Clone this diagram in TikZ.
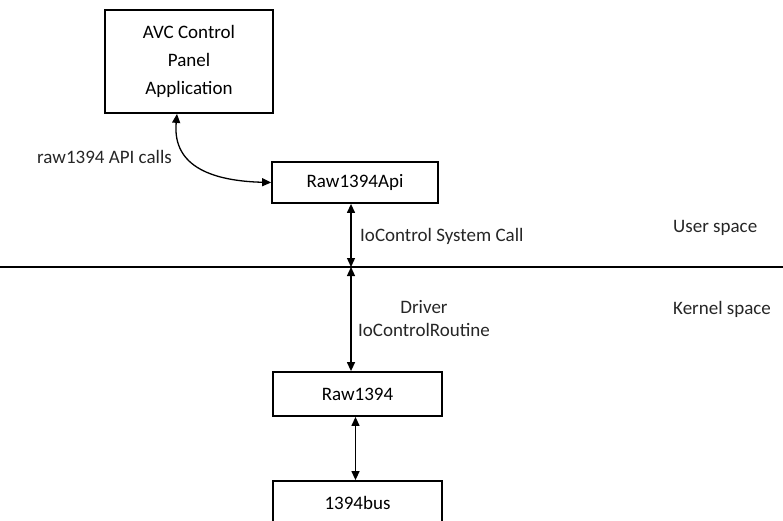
\documentclass[tikz,border=0pt]{standalone}
\usepackage{fontspec}
\setmainfont{Carlito}
\usetikzlibrary{arrows.meta,positioning,calc}

\begin{document}
\begin{tikzpicture}[x=1pt, y=-1pt,
  box/.style={rectangle, draw, line width=1.8pt, inner sep=0pt, align=center, font=\fontsize{19}{28}\selectfont},
  arr/.style={{Triangle[length=9pt,width=8pt]}-{Triangle[length=9pt,width=8pt]}, line width=1.3pt},
  lbl/.style={inner sep=0pt, font=\fontsize{19}{23}\selectfont, text=black!85}
]
\useasboundingbox (0,0) rectangle (783,520);

% User side
\node[box, minimum width=168pt, minimum height=103pt] (app) at (189,61.5) {AVC Control\\Panel\\Application};
\node[box, minimum width=166pt, minimum height=41pt] (api) at (355,182.5) {Raw1394Api};

\draw[arr] ([xshift=-12pt]app.south) .. controls (172,168) and (215,181) .. (api.west);
\node[lbl, anchor=west] (calls) at (37,157) {raw1394 API calls};

% Boundary between user and kernel
\coordinate (left) at (0,267);
\coordinate (right) at (783,267);
\draw[line width=1.4pt] (left) -- (right);
\coordinate (cross) at (351,267);

\node[lbl, anchor=west] (user) at (673,228) {User space};
\node[lbl, anchor=west] (kernel) at (673,309) {Kernel space};

\draw[arr] (api.south -| cross) -- (cross);
\node[lbl, anchor=west] (ioctl) at (360,236) {IoControl System Call};

% Kernel side
\node[box, minimum width=169pt, minimum height=44pt] (drv) at (357.5,394) {Raw1394};
\node[box, minimum width=169pt, minimum height=44pt] (bus) at (357.5,503) {1394bus};

\draw[arr] (cross) -- (cross |- drv.north);
\node[lbl, align=center] (routine) at (424,318.5) {Driver\\IoControlRoutine};

\draw[arr] ([xshift=-2pt]drv.south) -- ([xshift=-2pt]bus.north);

\end{tikzpicture}
\end{document}
